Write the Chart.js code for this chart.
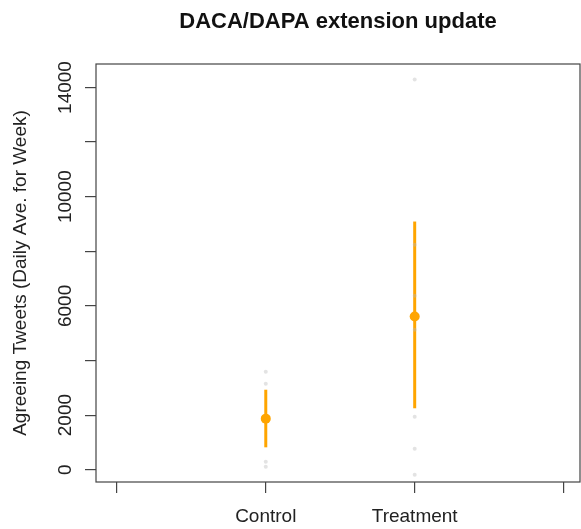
<!DOCTYPE html>
<html>
<head>
<meta charset="utf-8">
<script src="https://cdn.jsdelivr.net/npm/chart.js@4.4.0/dist/chart.umd.min.js"></script>
<style>
  html, body { margin: 0; padding: 0; background: #fff; }
  canvas { display: block; }
</style>
</head>
<body>
<canvas id="chart" width="581" height="529"></canvas>
<script>
const chartTitle = 'DACA/DAPA extension update';
const yAxisTitle = 'Agreeing Tweets (Daily Ave. for Week)';

// categories and where they sit on the x axis
const groups = ['Control', 'Treatment'];
const groupX = [1, 2];
const xTickValues = [0, 1, 2, 3];

// estimated means and interval ends
const means = [1870, 5610];
const intervalLow = [820, 2250];
const intervalHigh = [2930, 9090];

// faint raw weekly values behind the estimates
const controlRaw = [3590, 3150, 290, 110];
const treatmentRaw = [14290, 8240, 6370, 5130, 1940, 770, -180];

// y ticks: every 2000, R drops the labels that would overlap
const yTickValues = [0, 2000, 4000, 6000, 8000, 10000, 12000, 14000];
const yLabelValues = [0, 2000, 6000, 10000, 14000];

const ORANGE = '#FFA500';
const FONT = '"Liberation Sans", Arial, sans-serif';

const rawSets = [controlRaw, treatmentRaw];
const datasets = [];

rawSets.forEach((values, i) => {
    datasets.push({
        type: 'scatter',
        data: values.map(v => ({ x: groupX[i], y: v })),
        pointRadius: 2,
        pointBackgroundColor: 'rgba(185,185,185,0.4)',
        pointBorderWidth: 0
    });
});

groups.forEach((g, i) => {
    datasets.push({
        type: 'line',
        data: [{ x: groupX[i], y: intervalLow[i] }, { x: groupX[i], y: intervalHigh[i] }],
        borderColor: ORANGE,
        borderWidth: 3,
        pointRadius: 0,
        fill: false
    });
});

datasets.push({
    type: 'scatter',
    data: means.map((m, i) => ({ x: groupX[i], y: m })),
    pointRadius: 5,
    pointBackgroundColor: ORANGE,
    pointBorderColor: ORANGE,
    pointBorderWidth: 0
});

// R-style box, title and rotated y labels
const rDecorations = {
    id: 'rDecorations',
    afterDraw(chart) {
        const { ctx, chartArea, scales } = chart;
        ctx.save();
        ctx.strokeStyle = '#444';
        ctx.lineWidth = 1.2;
        ctx.strokeRect(chartArea.left, chartArea.top, chartArea.right - chartArea.left, chartArea.bottom - chartArea.top);

        ctx.fillStyle = '#111';
        ctx.font = 'bold 22px ' + FONT;
        ctx.textAlign = 'center';
        ctx.textBaseline = 'alphabetic';
        ctx.fillText(chartTitle, (chartArea.left + chartArea.right) / 2, 28);

        ctx.fillStyle = '#222';
        ctx.font = '19px ' + FONT;
        yLabelValues.forEach(v => {
            const y = scales.y.getPixelForValue(v);
            ctx.save();
            ctx.translate(71, y);
            ctx.rotate(-Math.PI / 2);
            ctx.fillText(String(v), 0, 0);
            ctx.restore();
        });

        ctx.save();
        ctx.translate(21, (chartArea.top + chartArea.bottom) / 2);
        ctx.rotate(-Math.PI / 2);
        ctx.textBaseline = 'middle';
        ctx.fillText(yAxisTitle, 0, 0);
        ctx.restore();
        ctx.restore();
    }
};

new Chart(document.getElementById('chart'), {
    data: { datasets },
    options: {
        responsive: false,
        animation: false,
        events: [],
        layout: { autoPadding: false, padding: { top: 64, right: 1, left: 0, bottom: 0 } },
        plugins: { legend: { display: false }, tooltip: { enabled: false }, title: { display: false } },
        scales: {
            x: {
                type: 'linear',
                min: -0.14,
                max: 3.11,
                afterBuildTicks: scale => { scale.ticks = xTickValues.map(v => ({ value: v })); },
                afterFit: scale => { scale.height = 47; },
                border: { display: false },
                grid: { drawOnChartArea: false, drawTicks: true, tickLength: 11, tickColor: '#444', lineWidth: 1.2 },
                ticks: {
                    autoSkip: false,
                    maxRotation: 0,
                    padding: 12,
                    color: '#222',
                    font: { family: FONT, size: 19 },
                    callback: v => {
                        const i = groupX.indexOf(v);
                        return i >= 0 ? groups[i] : '';
                    }
                }
            },
            y: {
                type: 'linear',
                min: -450,
                max: 14860,
                afterBuildTicks: scale => { scale.ticks = yTickValues.map(v => ({ value: v })); },
                afterFit: scale => { scale.width = 96; },
                border: { display: false },
                grid: { drawOnChartArea: false, drawTicks: true, tickLength: 11, tickColor: '#444', lineWidth: 1.2 },
                ticks: { display: false }
            }
        }
    },
    plugins: [rDecorations]
});
</script>
</body>
</html>
